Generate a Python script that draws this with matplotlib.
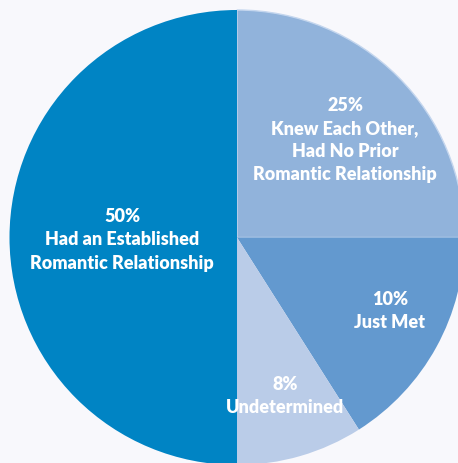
import matplotlib.pyplot as plt

# parts du camembert (les pourcentages affichés ne font pas 100)
labels = ["25%\nKnew Each Other,\nHad No Prior\nRomantic Relationship",
          "10%\nJust Met",
          "8%\nUndetermined",
          "50%\nHad an Established\nRomantic Relationship"]
shares = [25, 16, 9, 50]
colors = ["#91b3db", "#6399cf", "#bacce8", "#0084c4"]

# positions des étiquettes (pixels, origine en haut à gauche)
label_x = [345, 390, 285, 122]
label_y = [140, 311, 396, 240]

W, H = 458, 464
fig = plt.figure(figsize=(W / 100, H / 100), dpi=100)
fig.patch.set_facecolor("#f8f8fc")
ax = fig.add_axes([0, 0, 1, 1])
ax.set_facecolor("#f8f8fc")

wedges, _ = ax.pie(shares, colors=colors, startangle=90, counterclock=False,
                   center=(237, H - 238.5), radius=227.5,
                   wedgeprops={"linewidth": 0})
wedges[0].set_edgecolor("#c4d6ee")
wedges[0].set_linewidth(1.0)

# pie() impose ses propres limites, on les remet après
ax.set_xlim(0, W)
ax.set_ylim(0, H)
ax.set_aspect("equal")
ax.axis("off")

for lab, x, y in zip(labels, label_x, label_y):
    ax.text(x, H - y, lab, ha="center", va="center", color="white",
            fontsize=13, fontweight="heavy", family="Lato", linespacing=1.45)

fig.savefig("out.png", dpi=100, facecolor=fig.get_facecolor())
